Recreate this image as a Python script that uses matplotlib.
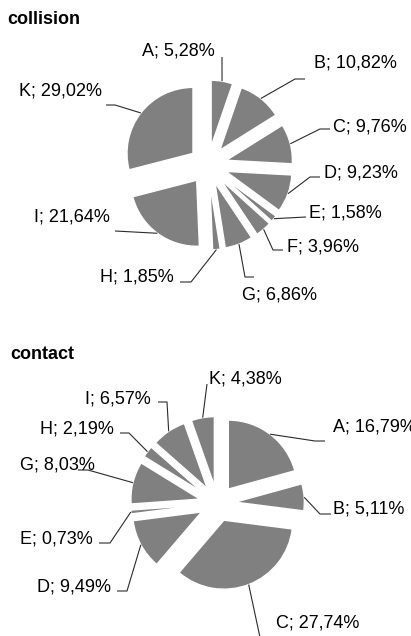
import numpy as np
import matplotlib
matplotlib.use("Agg")
import matplotlib.pyplot as plt

# ---- data -------------------------------------------------------------
collision_cats = ['A', 'B', 'C', 'D', 'E', 'F', 'G', 'H', 'I', 'K']
collision_vals = [5.28, 10.82, 9.76, 9.23, 1.58, 3.96, 6.86, 1.85, 21.64, 29.02]

contact_cats = ['A', 'B', 'C', 'D', 'E', 'G', 'H', 'I', 'K']
contact_vals = [16.79, 5.11, 27.74, 9.49, 0.73, 8.03, 2.19, 6.57, 4.38]

# ---- layout (pixel coordinates, origin top-left) ----------------------
W, H = 411, 636
FONT = 'Liberation Sans'
FS = 13

# pie geometry: centre, radius, explosion distance
collision_geom = dict(cx=208, cy=165, r=66, d=19)
contact_geom = dict(cx=217.4, cy=503.4, r=69, d=18)

# label text position (left, baseline) and leader path near the label
collision_layout = {
    'A': ((142, 56), [(222, 57)]),
    'B': ((314, 68), [(305, 79), (295, 79)]),
    'C': ((333, 131), [(330, 129), (320, 129)]),
    'D': ((324, 178), [(320, 177), (310, 177)]),
    'E': ((309, 217), [(306, 217)]),
    'F': ((287, 251), [(283, 250), (273, 250)]),
    'G': ((242, 300), [(254, 277), (245, 277)]),
    'H': ((100, 282), [(180, 282), (191, 282)]),
    'I': ((34, 221), [(115, 231)]),
    'K': ((19, 95), [(106, 105), (115, 105)]),
}
contact_layout = {
    'A': ((333, 432), [(325, 441), (315, 441)]),
    'B': ((333, 514), [(331, 514), (320, 514)]),
    'C': ((276, 627), [(261, 642)]),
    'D': ((37, 591), [(117, 591), (127, 591)]),
    'E': ((20, 543), [(99, 543), (110, 543)]),
    'G': ((20, 470), [(78, 470), (88, 470)]),
    'H': ((40, 434), [(120, 433), (129, 433)]),
    'I': ((85, 403), [(158, 402), (167, 402)]),
    'K': ((209, 384), [(207, 384)]),
}

fig = plt.figure(figsize=(W / 100, H / 100), dpi=100)
fig.patch.set_facecolor('white')

overlay = fig.add_axes([0, 0, 1, 1], zorder=5)
overlay.set_xlim(0, W)
overlay.set_ylim(H, 0)
overlay.axis('off')
overlay.patch.set_alpha(0)


def fmt(cat, val):
    return f"{cat}; {val:.2f}%".replace('.', ',')


def draw_pie(cats, vals, geom, layout, title, title_pos):
    cx, cy, r, d = geom['cx'], geom['cy'], geom['r'], geom['d']
    S = 115
    ax = fig.add_axes([(cx - S) / W, 1 - (cy + S) / H, 2 * S / W, 2 * S / H])
    wedges, _ = ax.pie(vals, startangle=90, counterclock=False,
                       explode=[d / r] * len(vals), colors=['#808080'] * len(vals),
                       wedgeprops=dict(edgecolor='white', linewidth=1.0))
    ax.set_xlim(-S / r, S / r)
    ax.set_ylim(-S / r, S / r)
    ax.axis('off')

    inv = overlay.transData.inverted()
    for w, cat, val in zip(wedges, cats, vals):
        mid = np.deg2rad((w.theta1 + w.theta2) / 2)
        px = w.center[0] + w.r * np.cos(mid)
        py = w.center[1] + w.r * np.sin(mid)
        anchor = inv.transform(ax.transData.transform((px, py)))
        (tx, ty), path = layout[cat]
        pts = path + [tuple(anchor)]
        xs, ys = zip(*pts)
        overlay.plot(xs, ys, color='#2b2b2b', lw=0.8, solid_capstyle='butt')
        overlay.text(tx, ty, fmt(cat, val), fontsize=FS, family=FONT,
                     color='black', ha='left', va='baseline')

    overlay.text(title_pos[0], title_pos[1], title, fontsize=FS, family=FONT,
                 fontweight='bold', color='black', ha='left', va='baseline')


draw_pie(collision_cats, collision_vals, collision_geom, collision_layout,
         'collision', (7.5, 24))
draw_pie(contact_cats, contact_vals, contact_geom, contact_layout,
         'contact', (10, 359))

fig.savefig('out.png', dpi=100)
